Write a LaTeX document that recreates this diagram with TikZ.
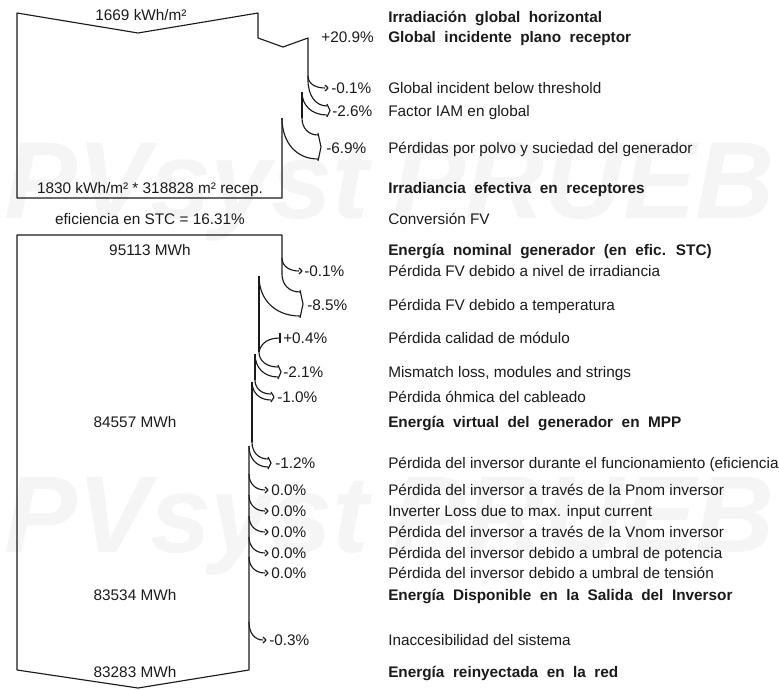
\documentclass[tikz,border=0pt]{standalone}
\usepackage{fontspec}
\setmainfont{Liberation Sans}
\newfontfamily\headfont{Liberation Sans}[WordSpace=2]
\usepackage{xcolor}
\definecolor{Ink}{HTML}{1A1A1A}
\definecolor{Mark}{HTML}{F5F5F5}

% loss leaving the flow: outer edge, inner edge, end x, end top, end bottom
\newcommand{\lossband}[7]{%
  \draw[flowline] (#1,#2) .. controls (#1,{#2+0.6*(#6-#2)}) and ({#5-0.6*(#5-#1)},#6) .. (#5,#6);
  \draw[flowline] (#3,#4) .. controls (#3,{#4+0.6*(#7-#4)}) and ({#5-0.6*(#5-#3)},#7) .. (#5,#7);
  \draw[flowline] (#5,{#6-2}) -- ({#5+3},{(#6+#7)/2}) -- (#5,{#7+2});
}
% thin loss: start on the edge, tip
\newcommand{\lossarrow}[4]{%
  \draw[flowline] (#1,#2) .. controls (#1,{#2+0.6*(#4-#2)}) and ({#3-0.6*(#3-#1)},#4) .. (#3,#4);
  \draw[flowline] (#3,{#4-3}) -- ({#3+3},#4) -- (#3,{#4+3});
}

\begin{document}
\begin{tikzpicture}[x=0.75pt,y=-0.75pt]
  \tikzset{
    flowline/.style={draw=Ink, line width=0.85pt, line join=round},
    rowtext/.style={anchor=base west, inner sep=0pt, text=Ink, font=\fontsize{11.5}{13}\selectfont},
    rowhead/.style={rowtext, font=\headfont\bfseries\fontsize{11.5}{13}\selectfont},
    pcttext/.style={anchor=base west, inner sep=0pt, text=Ink, font=\fontsize{11.5}{13}\selectfont},
    amount/.style={anchor=base, inner sep=0pt, text=Ink, font=\fontsize{11.5}{13}\selectfont},
    watermark/.style={anchor=base west, inner sep=0pt, text=Mark, font=\bfseries\itshape\fontsize{82}{84}\selectfont}
  }
  \useasboundingbox (0,0) rectangle (779,690);

  \node[watermark] (marktopa) at (4,218) {PVsyst};
  \node[watermark] (marktopb) at (392,218) {PRUEB};
  \node[watermark] (markbota) at (4,552) {PVsyst};
  \node[watermark] (markbotb) at (392,552) {PRUEB};

  % irradiance block
  \draw[flowline] (308,80) -- (308,38) -- (283,47) -- (258,38) -- (258,13) -- (138,33) -- (17,13) -- (17,198) -- (282,198) -- (282,118);
  \draw[flowline] (302,92) -- (302,118);
  \lossarrow{308}{76}{325}{88}
  \lossband{308}{80}{302}{92}{327}{106}{115}
  \lossband{302}{118}{282}{118}{318}{135}{159}

  \node[amount] (ghi) at (141,20) {1669 kWh/m²};
  \node[amount] (effirr) at (150,193) {1830 kWh/m² * 318828 m² recep.};
  \node[amount] (stceff) at (150,224) {eficiencia en STC = 16.31\%};

  % energy block
  \draw[flowline] (282,274) -- (282,235) -- (17,235) -- (17,670) -- (138,688) -- (249,670) -- (249,446);
  \lossarrow{282}{258}{299}{271}
  \lossband{282}{274}{259}{276}{300}{292}{316}
  \draw[flowline] (259,276) -- (259,352);
  \draw[flowline] (259,352) .. controls (261,343) and (268,338) .. (280,338);
  \draw[flowline] (280,333) -- (280,343);
  \lossband{259}{352}{255}{354}{278}{367}{377}
  \draw[flowline] (255,354) -- (255,380);
  \lossband{255}{380}{252}{382}{271}{394}{400}
  \draw[flowline] (252,382) -- (252,442);
  \lossband{252}{442}{249}{446}{268}{459}{467}
  \lossarrow{249}{474}{265}{490}
  \lossarrow{249}{495}{265}{511}
  \lossarrow{249}{516}{265}{532}
  \lossarrow{249}{537}{265}{553}
  \lossarrow{249}{557}{265}{573}
  \lossarrow{249}{622}{263}{640}

  \node[amount] (nomen) at (150,255) {95113 MWh};
  \node[amount] (mppen) at (135,427) {84557 MWh};
  \node[amount] (invout) at (135,600) {83534 MWh};
  \node[amount] (gridout) at (135,677) {83283 MWh};

  % percentages
  \node[pcttext, anchor=base east] (pctpoa) at (374,42) {+20.9\%};
  \node[pcttext] (pctthr) at (331,93) {-0.1\%};
  \node[pcttext] (pctiam) at (332,116) {-2.6\%};
  \node[pcttext] (pctsoil) at (326,153) {-6.9\%};
  \node[pcttext] (pctirr) at (304,276) {-0.1\%};
  \node[pcttext] (pcttemp) at (307,310) {-8.5\%};
  \node[pcttext] (pctqual) at (283,343) {+0.4\%};
  \node[pcttext] (pctmism) at (283,377) {-2.1\%};
  \node[pcttext] (pctohm) at (277,402) {-1.0\%};
  \node[pcttext] (pcteff) at (275,468) {-1.2\%};
  \node[pcttext] (pctpnom) at (271,495) {0.0\%};
  \node[pcttext] (pctimax) at (271,516) {0.0\%};
  \node[pcttext] (pctvnom) at (271,537) {0.0\%};
  \node[pcttext] (pctpthr) at (271,558) {0.0\%};
  \node[pcttext] (pctvthr) at (271,578) {0.0\%};
  \node[pcttext] (pctunav) at (269,645) {-0.3\%};

  % row captions
  \node[rowhead] (rowghi) at (388,22) {Irradiación global horizontal};
  \node[rowhead] (rowpoa) at (388,42) {Global incidente plano receptor};
  \node[rowtext] (rowthr) at (388,93) {Global incident below threshold};
  \node[rowtext] (rowiam) at (388,116) {Factor IAM en global};
  \node[rowtext] (rowsoil) at (388,153) {Pérdidas por polvo y suciedad del generador};
  \node[rowhead] (roweff) at (388,193) {Irradiancia efectiva en receptores};
  \node[rowtext] (rowconv) at (388,224) {Conversión FV};
  \node[rowhead] (rownom) at (388,255) {Energía nominal generador (en efic. STC)};
  \node[rowtext] (rowirr) at (388,276) {Pérdida FV debido a nivel de irradiancia};
  \node[rowtext] (rowtemp) at (388,310) {Pérdida FV debido a temperatura};
  \node[rowtext] (rowqual) at (388,343) {Pérdida calidad de módulo};
  \node[rowtext] (rowmism) at (388,377) {Mismatch loss, modules and strings};
  \node[rowtext] (rowohm) at (388,402) {Pérdida óhmica del cableado};
  \node[rowhead] (rowmpp) at (388,427) {Energía virtual del generador en MPP};
  \node[rowtext] (roweffi) at (388,468) {Pérdida del inversor durante el funcionamiento (eficiencia};
  \node[rowtext] (rowpnom) at (388,495) {Pérdida del inversor a través de la Pnom inversor};
  \node[rowtext] (rowimax) at (388,516) {Inverter Loss due to max. input current};
  \node[rowtext] (rowvnom) at (388,537) {Pérdida del inversor a través de la Vnom inversor};
  \node[rowtext] (rowpthr) at (388,558) {Pérdida del inversor debido a umbral de potencia};
  \node[rowtext] (rowvthr) at (388,578) {Pérdida del inversor debido a umbral de tensión};
  \node[rowhead] (rowinv) at (388,600) {Energía Disponible en la Salida del Inversor};
  \node[rowtext] (rowunav) at (388,645) {Inaccesibilidad del sistema};
  \node[rowhead] (rowgrid) at (388,677) {Energía reinyectada en la red};
\end{tikzpicture}
\end{document}
